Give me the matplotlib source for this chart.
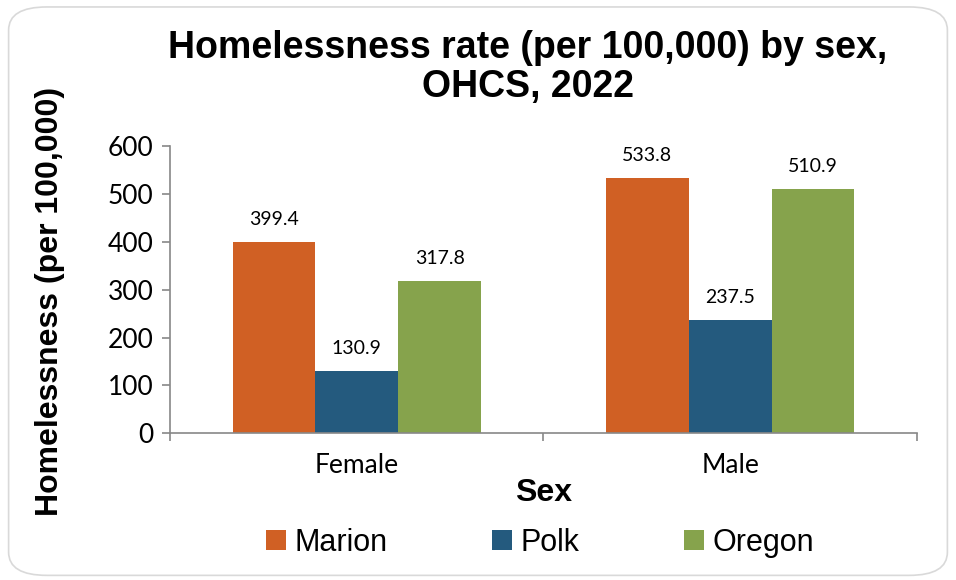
import numpy as np
import matplotlib.pyplot as plt
from matplotlib.patches import FancyBboxPatch

categories = ['Female', 'Male']
series = ['Marion', 'Polk', 'Oregon']
marion = [399.4, 533.8]
polk = [130.9, 237.5]
oregon = [317.8, 510.9]
colors = ['#D06024', '#245A7E', '#86A34C']

arial = ['Liberation Sans', 'DejaVu Sans']
plt.rcParams['font.family'] = ['Lato', 'DejaVu Sans']

fig = plt.figure(figsize=(9.56, 5.8), dpi=100)
fig.patches.append(FancyBboxPatch((0.009, 0.008), 0.982, 0.98,
                                  boxstyle='round,pad=0,rounding_size=0.04',
                                  transform=fig.transFigure, fc='white',
                                  ec='#D9D9D9', lw=1.2, zorder=-1))
ax = fig.add_axes([0.178, 0.253, 0.781, 0.495])

x = np.arange(len(categories))
w = 0.222
for i, (name, vals) in enumerate(zip(series, [marion, polk, oregon])):
    bars = ax.bar(x + (i - 1) * w, vals, w, color=colors[i], label=name, zorder=2)
    for b, v in zip(bars, vals):
        ax.annotate(f'{v:.1f}', (b.get_x() + b.get_width() / 2, v),
                    xytext=(0, 10), textcoords='offset points',
                    ha='center', va='bottom', fontsize=14)

ax.set_xlim(-0.5, 1.5)
ax.set_ylim(0, 600)
ax.set_yticks(range(0, 601, 100))
ax.set_xticks(x)
ax.set_xticklabels(categories, fontsize=19)
ax.set_xticks([-0.5, 0.5, 1.5], minor=True)
ax.tick_params(axis='x', which='major', length=0, pad=14)
ax.tick_params(axis='x', which='minor', length=6, color='#888888', width=1.2)
ax.tick_params(axis='y', labelsize=19, length=6, color='#888888', width=1.2, pad=6)
for s in ['top', 'right']:
    ax.spines[s].set_visible(False)
for s in ['left', 'bottom']:
    ax.spines[s].set_color('#888888')
    ax.spines[s].set_linewidth(1.2)

ax.set_xlabel('Sex', fontsize=23, fontweight='bold', family=arial, labelpad=0)
fig.text(0.052, 0.48, 'Homelessness (per 100,000)', rotation=90, ha='center', va='center',
         fontsize=23, fontweight='bold', family=arial)
fig.text(0.552, 0.883, 'Homelessness rate (per 100,000) by sex,\nOHCS, 2022', ha='center', va='center',
         fontsize=27, fontweight='bold', family=arial, linespacing=1.1)

fig.legend(loc='center', bbox_to_anchor=(0.565, 0.064), ncol=3, frameon=False,
           prop={'family': arial, 'size': 22}, handlelength=0.65, handleheight=0.65,
           handletextpad=0.3, columnspacing=3.4)

fig.savefig('out.png', dpi=100)
